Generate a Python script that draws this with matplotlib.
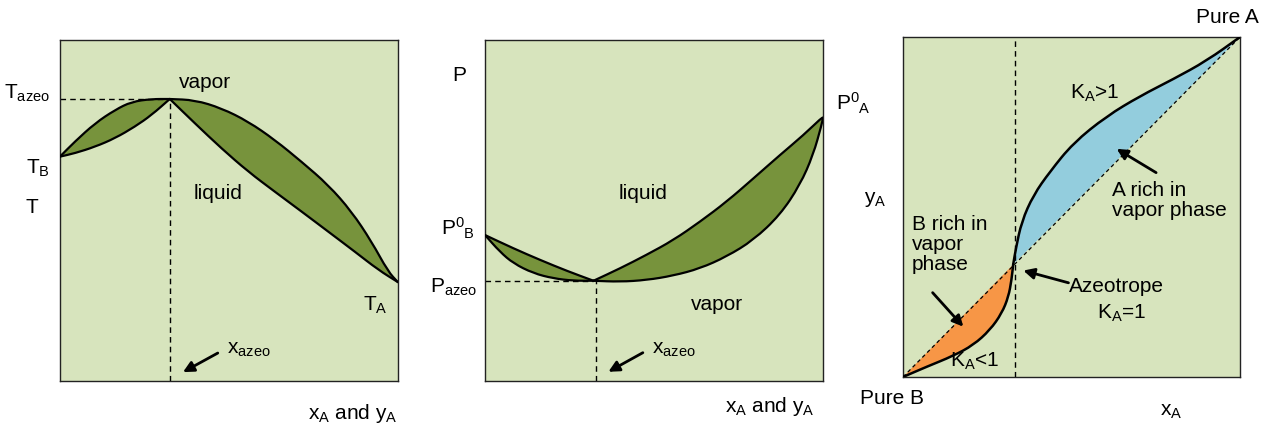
import matplotlib.pyplot as plt
from matplotlib.path import Path
from matplotlib.patches import PathPatch

plt.rcParams['font.family'] = ['Liberation Sans', 'DejaVu Sans']
plt.rcParams['mathtext.fontset'] = 'custom'
plt.rcParams['mathtext.rm'] = 'Liberation Sans'
plt.rcParams['mathtext.it'] = 'Liberation Sans:italic'

# couleurs
fond = '#d7e4bd'
vert = '#77933c'
bleu = '#93cddd'
orange = '#f79646'

# --- diagramme T-x-y (azeotrope a temperature max) ---
t_azeo = (0.325, 0.827)
t_gauche_haut_x = [0.0, 0.044, 0.104, 0.163, 0.212, 0.271, 0.325]
t_gauche_haut_y = [0.658, 0.702, 0.756, 0.795, 0.819, 0.827, 0.827]
t_gauche_bas_x = [0.0, 0.044, 0.104, 0.163, 0.222, 0.271, 0.325]
t_gauche_bas_y = [0.658, 0.668, 0.687, 0.712, 0.746, 0.780, 0.827]
t_droite_haut_x = [0.325, 0.399, 0.478, 0.557, 0.636, 0.715, 0.794, 0.863, 0.922, 0.971, 1.0]
t_droite_haut_y = [0.827, 0.824, 0.800, 0.761, 0.707, 0.643, 0.575, 0.497, 0.409, 0.321, 0.29]
t_droite_bas_x = [0.325, 0.399, 0.478, 0.557, 0.636, 0.715, 0.794, 0.873, 0.942, 1.0]
t_droite_bas_y = [0.827, 0.756, 0.682, 0.614, 0.555, 0.497, 0.438, 0.379, 0.326, 0.29]

# --- diagramme P-x-y (azeotrope a pression min) ---
p_azeo = (0.321, 0.294)
p_gauche_haut_x = [0.0, 0.084, 0.163, 0.242, 0.321]
p_gauche_haut_y = [0.428, 0.389, 0.355, 0.323, 0.294]
p_gauche_bas_x = [0.0, 0.044, 0.084, 0.143, 0.202, 0.261, 0.321]
p_gauche_bas_y = [0.428, 0.379, 0.345, 0.316, 0.301, 0.294, 0.294]
p_droite_haut_x = [0.321, 0.399, 0.478, 0.557, 0.636, 0.715, 0.794, 0.873, 0.942, 0.996, 1.0]
p_droite_haut_y = [0.294, 0.330, 0.370, 0.413, 0.467, 0.526, 0.594, 0.663, 0.721, 0.772, 0.772]
p_droite_bas_x = [0.321, 0.399, 0.478, 0.557, 0.636, 0.715, 0.794, 0.873, 0.932, 0.971, 0.996, 1.0]
p_droite_bas_y = [0.294, 0.291, 0.296, 0.309, 0.330, 0.365, 0.413, 0.487, 0.575, 0.663, 0.751, 0.772]

# --- diagramme y-x ---
yx_azeo = (0.327, 0.331)
yx_bas_x = [0.0, 0.070, 0.149, 0.209, 0.258, 0.293, 0.313, 0.322, 0.327]
yx_bas_y = [0.0, 0.030, 0.062, 0.094, 0.138, 0.187, 0.236, 0.285, 0.331]
yx_haut_x = [0.327, 0.335, 0.352, 0.387, 0.436, 0.505, 0.604, 0.703, 0.802, 0.901, 1.0]
yx_haut_y = [0.331, 0.378, 0.457, 0.535, 0.604, 0.688, 0.767, 0.826, 0.876, 0.930, 1.0]
x_azeo_yx = 0.332

fs = 15


def troncons(xs, ys):
    """segments courbes (bezier quadratique) passant par les milieux"""
    pts = list(zip(xs, ys))
    verts = []
    codes = []
    if len(pts) < 3:
        for p in pts:
            verts.append(p)
            codes.append(Path.LINETO)
        return verts, codes
    mid = lambda a, b: ((a[0] + b[0]) / 2, (a[1] + b[1]) / 2)
    verts.append(mid(pts[0], pts[1]))
    codes.append(Path.LINETO)
    for i in range(1, len(pts) - 1):
        verts += [pts[i], mid(pts[i], pts[i + 1])]
        codes += [Path.CURVE3, Path.CURVE3]
    verts.append(pts[-1])
    codes.append(Path.LINETO)
    return verts, codes


def chemin(xs, ys, ferme_avec=None):
    verts = [(xs[0], ys[0])]
    codes = [Path.MOVETO]
    v, c = troncons(xs, ys)
    verts += v
    codes += c
    if ferme_avec is not None:
        v, c = troncons(*ferme_avec)
        verts += v
        codes += c
        verts.append((xs[0], ys[0]))
        codes.append(Path.CLOSEPOLY)
    return Path(verts, codes)


def courbe(ax, xs, ys, lw=1.6):
    ax.add_patch(PathPatch(chemin(xs, ys), fill=False, edgecolor='black',
                           lw=lw, zorder=4, capstyle='round', joinstyle='round'))


def zone(ax, hx, hy, bx, by, couleur):
    p = chemin(hx, hy, ferme_avec=(bx[::-1], by[::-1]))
    ax.add_patch(PathPatch(p, facecolor=couleur, edgecolor='none', zorder=2))


def lentille(ax, hx, hy, bx, by):
    zone(ax, hx, hy, bx, by, vert)
    courbe(ax, hx, hy)
    courbe(ax, bx, by)


def preparer(ax):
    ax.set_facecolor(fond)
    ax.set_xlim(0, 1)
    ax.set_ylim(0, 1)
    ax.set_xticks([])
    ax.set_yticks([])
    for s in ax.spines.values():
        s.set_color('#222222')
        s.set_linewidth(1.0)


def fleche(ax, de, vers):
    ax.annotate('', xy=vers, xytext=de, xycoords='axes fraction',
                arrowprops=dict(arrowstyle='-|>', color='black', lw=2,
                                mutation_scale=16, shrinkA=0, shrinkB=0))


fig = plt.figure(figsize=(12.7, 4.28), dpi=100)
ax1 = fig.add_axes([0.0472, 0.1098, 0.2661, 0.7967])
ax2 = fig.add_axes([0.3819, 0.1098, 0.2661, 0.7967])
ax3 = fig.add_axes([0.7110, 0.1192, 0.2654, 0.7944])
for ax in (ax1, ax2, ax3):
    preparer(ax)

tirets = (4, 3)

# T-x-y
lentille(ax1, t_gauche_haut_x, t_gauche_haut_y, t_gauche_bas_x, t_gauche_bas_y)
lentille(ax1, t_droite_haut_x, t_droite_haut_y, t_droite_bas_x, t_droite_bas_y)
ax1.plot([0, t_azeo[0]], [t_azeo[1], t_azeo[1]], 'k--', lw=1, dashes=tirets)
ax1.plot([t_azeo[0], t_azeo[0]], [0, t_azeo[1]], 'k--', lw=1, dashes=tirets)
kw = dict(transform=ax1.transAxes, fontsize=fs, clip_on=False)
ax1.text(-0.03, 0.845, 'T$_{\\mathrm{azeo}}$', ha='right', va='center', **kw)
ax1.text(-0.066, 0.625, 'T$_{\\mathrm{B}}$', ha='center', va='center', **kw)
ax1.text(-0.083, 0.51, 'T', ha='center', va='center', **kw)
ax1.text(0.932, 0.223, 'T$_{\\mathrm{A}}$', ha='center', va='center', **kw)
ax1.text(0.429, 0.874, 'vapor', ha='center', va='center', **kw)
ax1.text(0.467, 0.551, 'liquid', ha='center', va='center', **kw)
ax1.text(0.494, 0.091, 'x$_{\\mathrm{azeo}}$', ha='left', va='center', **kw)
ax1.text(1.0, -0.094, 'x$_{\\mathrm{A}}$ and y$_{\\mathrm{A}}$', ha='right', va='center', **kw)
fleche(ax1, (0.467, 0.082), (0.364, 0.026))

# P-x-y
lentille(ax2, p_gauche_haut_x, p_gauche_haut_y, p_gauche_bas_x, p_gauche_bas_y)
lentille(ax2, p_droite_haut_x, p_droite_haut_y, p_droite_bas_x, p_droite_bas_y)
ax2.plot([0, p_azeo[0]], [p_azeo[1], p_azeo[1]], 'k--', lw=1, dashes=tirets)
ax2.plot([p_azeo[0] + 0.006, p_azeo[0] + 0.006], [0, p_azeo[1]], 'k--', lw=1, dashes=tirets)
kw = dict(transform=ax2.transAxes, fontsize=fs, clip_on=False)
ax2.text(-0.077, 0.897, 'P', ha='center', va='center', **kw)
ax2.text(-0.03, 0.449, 'P$^{0}$$_{\\mathrm{B}}$', ha='right', va='center', **kw)
ax2.text(-0.024, 0.276, 'P$_{\\mathrm{azeo}}$', ha='right', va='center', **kw)
ax2.text(1.04, 0.815, 'P$^{0}$$_{\\mathrm{A}}$', ha='left', va='center', **kw)
ax2.text(0.467, 0.551, 'liquid', ha='center', va='center', **kw)
ax2.text(0.686, 0.223, 'vapor', ha='center', va='center', **kw)
ax2.text(0.493, 0.091, 'x$_{\\mathrm{azeo}}$', ha='left', va='center', **kw)
ax2.text(0.976, -0.076, 'x$_{\\mathrm{A}}$ and y$_{\\mathrm{A}}$', ha='right', va='center', **kw)
fleche(ax2, (0.467, 0.083), (0.365, 0.027))

# y-x : zones entre la courbe et la diagonale
zone(ax3, [0.0, yx_azeo[0]], [0.0, yx_azeo[1]], yx_bas_x, yx_bas_y, orange)
zone(ax3, yx_haut_x, yx_haut_y, [yx_azeo[0], 1.0], [yx_azeo[1], 1.0], bleu)
ax3.plot([0, 1], [0, 1], 'k--', lw=0.9, dashes=(3, 2.5), zorder=3)
ax3.plot([x_azeo_yx, x_azeo_yx], [0, 1], 'k--', lw=1, dashes=tirets, zorder=3)
courbe(ax3, yx_bas_x, yx_bas_y, lw=1.8)
courbe(ax3, yx_haut_x, yx_haut_y, lw=1.8)
kw = dict(transform=ax3.transAxes, fontsize=fs, clip_on=False)
ax3.text(0.961, 1.056, 'Pure A', ha='center', va='center', **kw)
ax3.text(-0.034, -0.062, 'Pure B', ha='center', va='center', **kw)
ax3.text(-0.083, 0.521, 'y$_{\\mathrm{A}}$', ha='center', va='center', **kw)
ax3.text(0.797, -0.102, 'x$_{\\mathrm{A}}$', ha='center', va='center', **kw)
ax3.text(0.57, 0.835, 'K$_{\\mathrm{A}}$>1', ha='center', va='center', **kw)
ax3.text(0.619, 0.52, 'A rich in\nvapor phase', ha='left', va='center', linespacing=1.05, **kw)
ax3.text(0.026, 0.39, 'B rich in\nvapor\nphase', ha='left', va='center', linespacing=1.05, **kw)
ax3.text(0.634, 0.266, 'Azeotrope', ha='center', va='center', **kw)
ax3.text(0.649, 0.187, 'K$_{\\mathrm{A}}$=1', ha='center', va='center', **kw)
ax3.text(0.214, 0.045, 'K$_{\\mathrm{A}}$<1', ha='center', va='center', **kw)
fleche(ax3, (0.751, 0.601), (0.634, 0.671))
fleche(ax3, (0.088, 0.248), (0.179, 0.148))
fleche(ax3, (0.491, 0.277), (0.357, 0.313))

fig.savefig('out.png', dpi=100)
